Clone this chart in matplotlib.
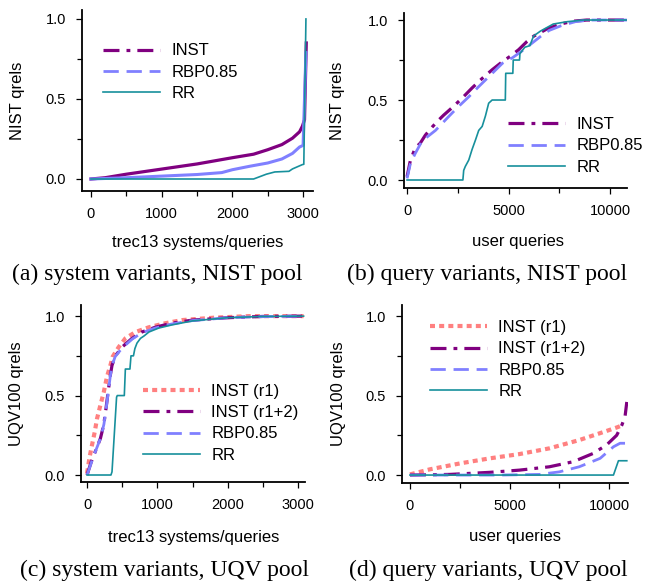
import numpy as np
import matplotlib
matplotlib.use('Agg')
import matplotlib.pyplot as plt
from matplotlib.lines import Line2D
from matplotlib.ticker import MultipleLocator

plt.rcParams['font.family'] = ['Liberation Sans', 'DejaVu Sans']

# colours
c_inst = '#800080'
c_rbp = '#8080ff'
c_rr = '#17909c'
c_r1 = '#ff8080'

# (a) system variants, NIST pool
a_inst_x = [0, 200, 500, 1000, 1500, 2000, 2300, 2500, 2700, 2850, 2950, 2990, 3020, 3045]
a_inst_y = [0, 0.008, 0.03, 0.062, 0.094, 0.133, 0.155, 0.183, 0.215, 0.255, 0.295, 0.33, 0.37, 0.85]
a_rbp_x = [0, 500, 1000, 1500, 1850, 2000, 2250, 2500, 2700, 2850, 2950, 3000, 3040]
a_rbp_y = [0, 0.008, 0.018, 0.028, 0.04, 0.058, 0.08, 0.10, 0.125, 0.16, 0.2, 0.21, 0.79]
a_rr_x = [0, 2300, 2480, 2600, 2800, 2850, 2990, 3010, 3040]
a_rr_y = [0, 0, 0.03, 0.044, 0.048, 0.063, 0.09, 0.092, 1.0]

# (b) query variants, NIST pool
b_inst_x = [0, 160, 400, 650, 900, 1230, 1560, 1800, 2200, 2700, 3200, 3700, 4200, 4700,
            5100, 5500, 5900, 6250, 6900, 7550, 8200, 8850, 10830]
b_inst_y = [0.02, 0.12, 0.20, 0.23, 0.28, 0.33, 0.375, 0.405, 0.45, 0.51, 0.575, 0.635, 0.69, 0.74,
            0.775, 0.815, 0.865, 0.90, 0.945, 0.975, 0.993, 1.0, 1.0]
b_rbp_x = [0, 160, 400, 700, 1000, 1400, 2000, 2500, 3040, 3500, 3860, 4300, 4700, 5200,
           5700, 6200, 6600, 7000, 7600, 8300, 9000, 10830]
b_rbp_y = [0.01, 0.10, 0.165, 0.235, 0.27, 0.31, 0.39, 0.455, 0.52, 0.58, 0.625, 0.68, 0.73, 0.765,
           0.81, 0.86, 0.90, 0.935, 0.965, 0.99, 1.0, 1.0]
b_rr_x = [0, 2750, 2790, 2870, 3040, 3200, 3370, 3530, 3700, 3860, 4020, 4190, 4840, 4860,
          5210, 5230, 5540, 5560, 5800, 6050, 6230, 6560, 7200, 7900, 8700, 10830]
b_rr_y = [0, 0, 0.06, 0.085, 0.125, 0.19, 0.25, 0.31, 0.335, 0.40, 0.48, 0.50, 0.50, 0.667,
          0.667, 0.75, 0.75, 0.79, 0.83, 0.84, 0.90, 0.93, 0.975, 0.99, 1.0, 1.0]

# (c) system variants, UQV pool
c_r1_x = [0, 33, 71, 109, 142, 190, 237, 284, 332, 365, 450, 545, 690, 880, 1110, 1350, 1800, 2300, 3080]
c_r1_y = [0.01, 0.105, 0.19, 0.27, 0.355, 0.44, 0.52, 0.62, 0.69, 0.745, 0.805, 0.86, 0.90, 0.93,
          0.955, 0.975, 0.99, 1.0, 1.0]
c_r12_x = [0, 14, 62, 119, 190, 237, 270, 299, 332, 355, 403, 498, 640, 780, 970, 1200, 1500, 2000, 2500, 3080]
c_r12_y = [0, 0.02, 0.085, 0.15, 0.23, 0.315, 0.42, 0.52, 0.63, 0.69, 0.75, 0.805, 0.86, 0.90, 0.93,
           0.955, 0.975, 0.99, 0.998, 1.0]
c_rbp_x = [0, 20, 70, 125, 195, 240, 272, 300, 330, 352, 400, 500, 640, 780, 970, 1200, 1500, 2000, 2500, 3080]
c_rbp_y = [0, 0.025, 0.09, 0.155, 0.235, 0.32, 0.42, 0.515, 0.62, 0.685, 0.745, 0.80, 0.855, 0.895, 0.925,
           0.95, 0.972, 0.99, 0.997, 1.0]
c_rr_x = [0, 340, 355, 420, 430, 530, 545, 610, 625, 660, 680, 710, 760, 810, 880, 1020, 1210,
          1500, 2000, 2500, 3080]
c_rr_y = [0, 0, 0.02, 0.49, 0.50, 0.50, 0.667, 0.667, 0.75, 0.75, 0.795, 0.83, 0.86, 0.875, 0.90,
          0.925, 0.945, 0.97, 0.99, 0.998, 1.0]

# (d) query variants, UQV pool
d_r1_x = [0, 1000, 2500, 4000, 5500, 7000, 8500, 9700, 10400, 10600]
d_r1_y = [0.004, 0.036, 0.073, 0.105, 0.132, 0.168, 0.22, 0.27, 0.30, 0.31]
d_r12_x = [0, 2000, 4000, 5500, 7000, 8200, 9200, 9880, 10380, 10640, 10800, 10890]
d_r12_y = [0, 0.004, 0.017, 0.031, 0.052, 0.084, 0.136, 0.19, 0.25, 0.314, 0.367, 0.46]
d_rbp_x = [0, 4500, 6500, 7500, 8500, 9550, 10220, 10550, 10800]
d_rbp_y = [0, 0, 0.004, 0.02, 0.052, 0.105, 0.178, 0.2, 0.2]
d_rr_x = [0, 10220, 10470, 10890]
d_rr_y = [0, 0, 0.09, 0.09]

# line styles
st_inst = dict(color=c_inst, lw=2.3, dashes=[5, 2.2, 1.2, 2.2])
st_rbp = dict(color=c_rbp, lw=2.0, dashes=[5.5, 2.8])
st_rr = dict(color=c_rr, lw=1.2)
st_r1 = dict(color=c_r1, lw=3.0, dashes=[1.2, 1.0])

fig = plt.figure(figsize=(6.45, 5.83), dpi=100)

W, H = 645.0, 583.0


def make_axes(l, r, t, b):
    return fig.add_axes([l / W, 1 - b / H, (r - l) / W, (b - t) / H])


def style(ax, xlim, ylim, xmaj, xmin, xlabel, ylabel, xlab_y, ylab_x, xlab_x=0.5):
    ax.set_xlim(*xlim)
    ax.set_ylim(*ylim)
    for s in ['top', 'right']:
        ax.spines[s].set_visible(False)
    for s in ['left', 'bottom']:
        ax.spines[s].set_linewidth(1.3)
    ax.xaxis.set_major_locator(MultipleLocator(xmaj))
    ax.xaxis.set_minor_locator(MultipleLocator(xmin))
    ax.yaxis.set_minor_locator(MultipleLocator(0.25))
    ax.set_yticks([0, 0.5, 1.0])
    ax.set_yticklabels(['0.0', '0.5', '1.0'])
    ax.tick_params(which='major', direction='out', length=4.5, width=0.9, labelsize=10.5, pad=7)
    ax.tick_params(which='minor', direction='out', length=3.5, width=0.9)
    ax.set_xlabel(xlabel, fontsize=12, va='center')
    ax.set_ylabel(ylabel, fontsize=12, va='center')
    ax.xaxis.set_label_coords(xlab_x, xlab_y)
    ax.yaxis.set_label_coords(ylab_x, 0.5)


def leg(ax, x, y, handles=None):
    kw = dict(loc='upper left', bbox_to_anchor=(x, y), frameon=False, fontsize=12,
              handlelength=3.4, handletextpad=0.7, labelspacing=0.38, borderpad=0,
              borderaxespad=0)
    if handles is None:
        ax.legend(**kw)
    else:
        ax.legend(handles=handles, **kw)


# (a) - dense data, dashes look solid in the original
ax = make_axes(82, 313, 10, 191)
ax.plot(a_inst_x, a_inst_y, color=c_inst, lw=2.3)
ax.plot(a_rbp_x, a_rbp_y, color=c_rbp, lw=2.2)
ax.plot(a_rr_x, a_rr_y, **st_rr)
style(ax, (-127, 3140), (-0.075, 1.056), 1000, 500, 'trec13 systems/queries', 'NIST qrels', -0.282, -0.281)
leg(ax, 0.091, 0.815, handles=[Line2D([], [], label='INST', **st_inst),
                               Line2D([], [], label='RBP0.85', **st_rbp),
                               Line2D([], [], label='RR', **st_rr)])

# (b)
ax = make_axes(404, 627, 13, 188)
ax.plot(b_inst_x, b_inst_y, label='INST', **st_inst)
ax.plot(b_rbp_x, b_rbp_y, label='RBP0.85', **st_rbp)
ax.plot(b_rr_x, b_rr_y, label='RR', **st_rr)
style(ax, (-150, 10833), (-0.05, 1.044), 5000, 2500, 'user queries', 'NIST qrels', -0.303, -0.296, 0.51)
leg(ax, 0.466, 0.405)

# (c)
ax = make_axes(81, 305, 305, 482)
ax.plot(c_r1_x, c_r1_y, label='INST (r1)', **st_r1)
ax.plot(c_r12_x, c_r12_y, label='INST (r1+2)', **st_inst)
ax.plot(c_rbp_x, c_rbp_y, label='RBP0.85', **st_rbp)
ax.plot(c_rr_x, c_rr_y, label='RR', **st_rr)
style(ax, (-86, 3100), (-0.044, 1.07), 1000, 500, 'trec13 systems/queries', 'UQV100 qrels', -0.311, -0.286, 0.505)
leg(ax, 0.277, 0.555)

# (d)
ax = make_axes(402, 628, 305, 483)
ax.plot(d_r1_x, d_r1_y, label='INST (r1)', **st_r1)
ax.plot(d_r12_x, d_r12_y, label='INST (r1+2)', **st_inst)
ax.plot(d_rbp_x, d_rbp_y, label='RBP0.85', **st_rbp)
ax.plot(d_rr_x, d_rr_y, label='RR', **st_rr)
style(ax, (-400, 10950), (-0.05, 1.07), 5000, 2500, 'user queries', 'UQV100 qrels', -0.303, -0.283)
leg(ax, 0.124, 0.915)

# captions
cap = dict(fontsize=17, family='Liberation Serif', ha='center', va='center')
fig.text(157 / W, 1 - 274 / H, '(a) system variants, NIST pool', **cap)
fig.text(487 / W, 1 - 274 / H, '(b) query variants, NIST pool', **cap)
fig.text(165 / W, 1 - 570 / H, '(c) system variants, UQV pool', **cap)
fig.text(488 / W, 1 - 570 / H, '(d) query variants, UQV pool', **cap)

fig.savefig('out.png', dpi=100)
